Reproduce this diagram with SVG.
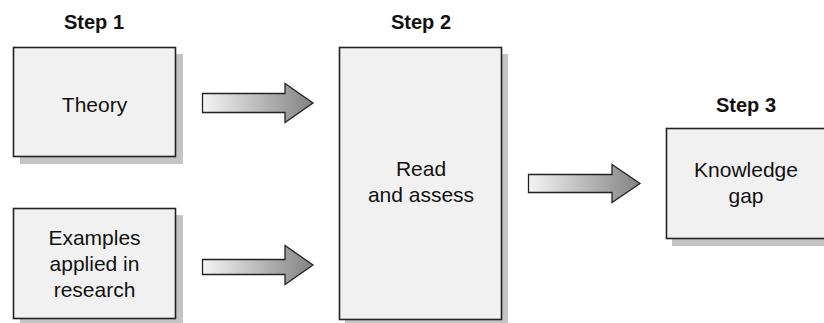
<svg xmlns="http://www.w3.org/2000/svg" width="824" height="323" viewBox="0 0 824 323">
<defs>
<linearGradient id="g" x1="0" y1="0" x2="1" y2="0">
<stop offset="0" stop-color="#f4f4f4"/>
<stop offset="1" stop-color="#828282"/>
</linearGradient>
<style>
.sh{fill:#c4c4c4}
.bx{fill:#f1f1f1;stroke:#222;stroke-width:1.6}
.t{font-family:"Liberation Sans",Arial,sans-serif;font-size:21px;fill:#111;text-anchor:middle}
.h{font-family:"Liberation Sans",Arial,sans-serif;font-size:20px;font-weight:bold;fill:#111;text-anchor:middle}
.ar{fill:url(#g);stroke:#222;stroke-width:1.3;stroke-linejoin:miter}
</style>
</defs>
<rect width="824" height="323" fill="#fff"/>
<g id="step1">
<text class="h" x="94" y="29">Step 1</text>
</g>
<g id="theory">
<rect class="sh" x="20" y="54" width="163" height="110"/>
<rect class="bx" x="13.5" y="47.5" width="162" height="109"/>
<text class="t" x="94.5" y="111.5">Theory</text>
</g>
<g id="examples">
<rect class="sh" x="20" y="215" width="163" height="110"/>
<rect class="bx" x="13.5" y="208.5" width="162" height="110"/>
<text class="t" x="94.5" y="244.5">Examples</text>
<text class="t" x="94.5" y="270.5">applied in</text>
<text class="t" x="94.5" y="297">research</text>
</g>
<g id="step2">
<text class="h" x="421" y="29">Step 2</text>
</g>
<g id="read">
<rect class="sh" x="345" y="54" width="163" height="275"/>
<rect class="bx" x="339.5" y="47.5" width="162" height="272"/>
<text class="t" x="421" y="176">Read</text>
<text class="t" x="421" y="202">and assess</text>
</g>
<g id="step3">
<text class="h" x="746" y="112">Step 3</text>
</g>
<g id="gap">
<rect class="sh" x="672" y="134" width="163" height="112"/>
<rect class="bx" x="666.5" y="128.5" width="163" height="110"/>
<text class="t" x="746" y="176.5">Knowledge</text>
<text class="t" x="746" y="202.5">gap</text>
</g>
<g id="connectors">
<path class="ar" d="M202.5,93.5 H285 V83.5 L313,103 L285,122.5 V112.5 H202.5 Z"/>
<path class="ar" d="M202.5,259.5 H285 V245.5 L313,265 L285,284.5 V274.5 H202.5 Z"/>
<path class="ar" d="M528.5,174.5 H612 V164.5 L640,183.5 L612,202.5 V192.5 H528.5 Z"/>
</g>
</svg>
